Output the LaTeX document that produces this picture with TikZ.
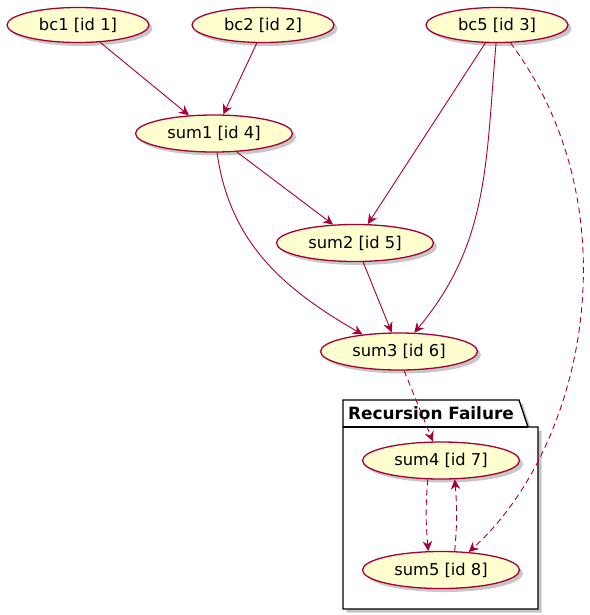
\documentclass[tikz,border=0pt]{standalone}
\usepackage{fontspec}
\setmainfont{DejaVu Sans}
\usetikzlibrary{shapes.geometric,arrows.meta,shadows}
\definecolor{umlred}{HTML}{A80036}
\definecolor{umlfill}{HTML}{FEFECE}

\begin{document}
\begin{tikzpicture}[x=1pt,y=-1pt,
    softshadow/.style={drop shadow={shadow xshift=3.5pt,shadow yshift=-3.5pt,opacity=.4,fill=black!55}},
    usecase/.style={ellipse,draw=umlred,fill=umlfill,line width=1.3pt,inner sep=0pt,
      minimum width=157pt,minimum height=37pt,font=\fontsize{16.3}{19}\selectfont,softshadow},
    flow/.style={draw=umlred,line width=.9pt,-{Stealth[length=10pt,width=9.5pt]}},
    weak/.style={flow,dash pattern=on 6pt off 4pt}]
  \useasboundingbox (0,0) rectangle (589,615);
  % package frame
  \def\pkgframe{(343,400) -- (519,400) -- (528,427) -- (538,427) -- (538,609) -- (343,609) -- cycle}
  \draw[black,line width=1.3pt,fill=white,softshadow] \pkgframe;
  \draw[black,line width=1.3pt] (343,427) -- (528,427);
  \node[anchor=west,inner sep=0pt,font=\fontsize{16.9}{19}\selectfont\bfseries] (pkg) at (348,413) {Recursion Failure};
  % use cases
  \node[usecase,minimum width=142pt,minimum height=35pt] (bc1) at (78,25) {bc1 [id 1]};
  \node[usecase,minimum width=142pt,minimum height=35pt] (bc2) at (263,25) {bc2 [id 2]};
  \node[usecase,minimum width=142pt,minimum height=35pt] (bc5) at (497,25) {bc5 [id 3]};
  \node[usecase] (sum1) at (214,133.5) {sum1 [id 4]};
  \node[usecase] (sum2) at (355,243) {sum2 [id 5]};
  \node[usecase] (sum3) at (399,351.5) {sum3 [id 6]};
  \node[usecase] (sum4) at (441,460.5) {sum4 [id 7]};
  \node[usecase] (sum5) at (441,570) {sum5 [id 8]};
  % links
  \draw[flow] (bc1.-38) -- (sum1.144);
  \draw[flow] (bc2.-109) -- (sum1.64);
  \draw[flow] (bc5.-123) -- (sum2.56);
  \draw[flow] (bc5.-93) to[out=-95,in=50] (sum3.51);
  \draw[weak] (bc5.-53) .. controls (635,209) and (585,447) .. (sum5.33);
  \draw[flow] (sum1.-39) -- (sum2.140);
  \draw[flow] (sum1.-81) to[out=-82,in=150] (sum3.155);
  \draw[flow] (sum2.-67) -- (sum3.111);
  \draw[weak] (sum3.-75) -- (sum4.113);
  \draw[weak] (sum4.-125) to[out=-95,in=95] (sum5.124);
  \draw[weak] (sum5.54) to[out=85,in=-85] (sum4.-54);
\end{tikzpicture}
\end{document}
